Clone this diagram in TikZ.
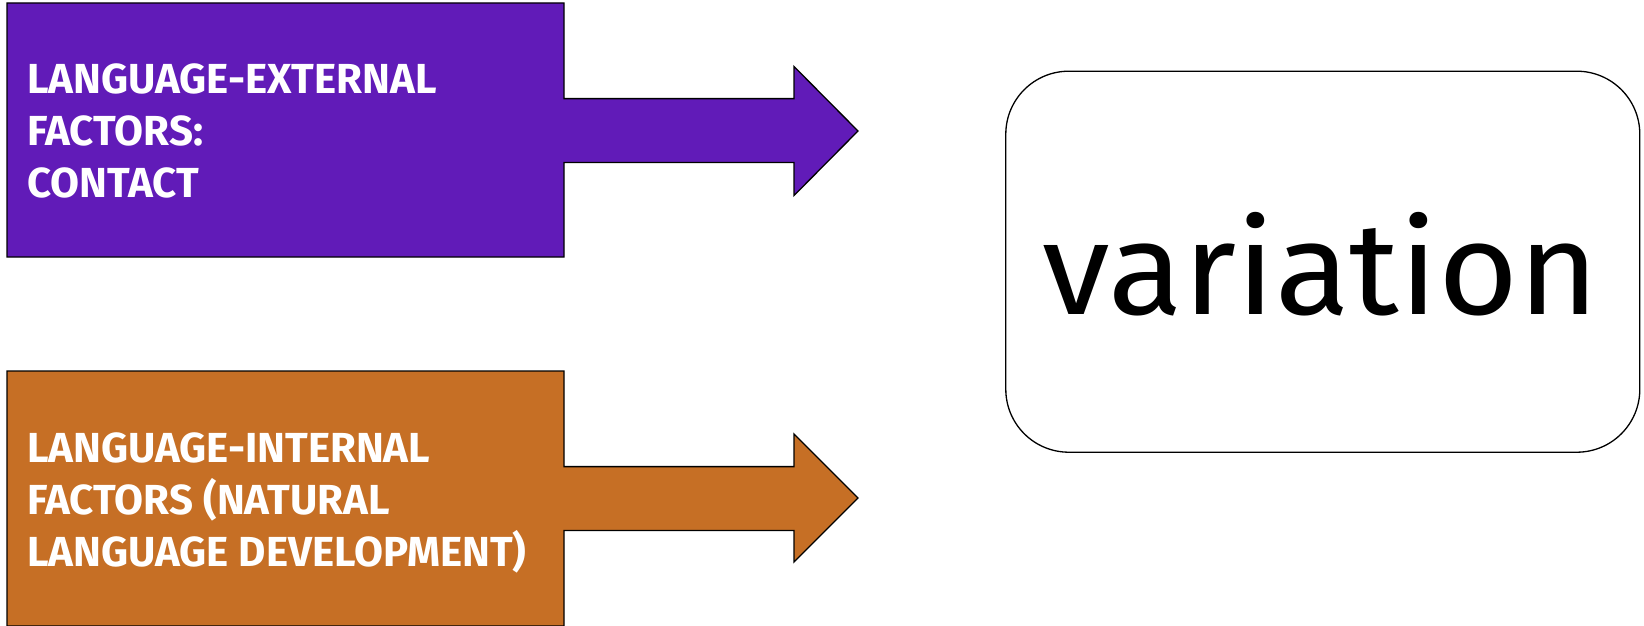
\documentclass[tikz,border=0pt]{standalone}
\usepackage{fontspec}
\setmainfont{Fira Sans}
\definecolor{extpurple}{HTML}{611BB8}
\definecolor{intorange}{HTML}{C66F25}
\begin{document}
\begin{tikzpicture}[x=1pt,y=-1pt]
\tikzset{
  factorshape/.style={draw=black, line width=1.3pt, line join=miter},
  factortext/.style={text=white, inner sep=0pt, align=left, anchor=north west,
    font=\fontsize{42}{52.4}\selectfont\bfseries},
  resultbox/.style={draw=black, line width=1.3pt, rounded corners=63pt, fill=white,
    minimum width=634pt, minimum height=381pt, inner sep=0pt},
}
\useasboundingbox (0,0) rectangle (1644,626);
% language-external factors: box with arrow
\draw[factorshape, fill=extpurple]
  (7,3) -- (564,3) -- (564,98.6) -- (794,98.6) -- (794,66.5) -- (858,131)
  -- (794,195.5) -- (794,162.5) -- (564,162.5) -- (564,257) -- (7,257) -- cycle;
% language-internal factors: box with arrow
\draw[factorshape, fill=intorange]
  (7,371) -- (564,371) -- (564,466.6) -- (794,466.6) -- (794,434) -- (858,498)
  -- (794,562) -- (794,530.5) -- (564,530.5) -- (564,626) -- (7,626) -- cycle;
\node[factortext] (ext) at (27,63) {LANGUAGE-EXTERNAL\\FACTORS:\\CONTACT};
\node[factortext] (int) at (27,432) {LANGUAGE-INTERNAL\\FACTORS (NATURAL\\LANGUAGE DEVELOPMENT)};
% outcome
\node[resultbox] (box) at (1322.8,261.7) {};
\node[anchor=base, inner sep=0pt, font=\fontsize{131}{140}\selectfont] (var) at (1321,314.6) {\scalebox{1.05}[1]{variation}};
\end{tikzpicture}
\end{document}
